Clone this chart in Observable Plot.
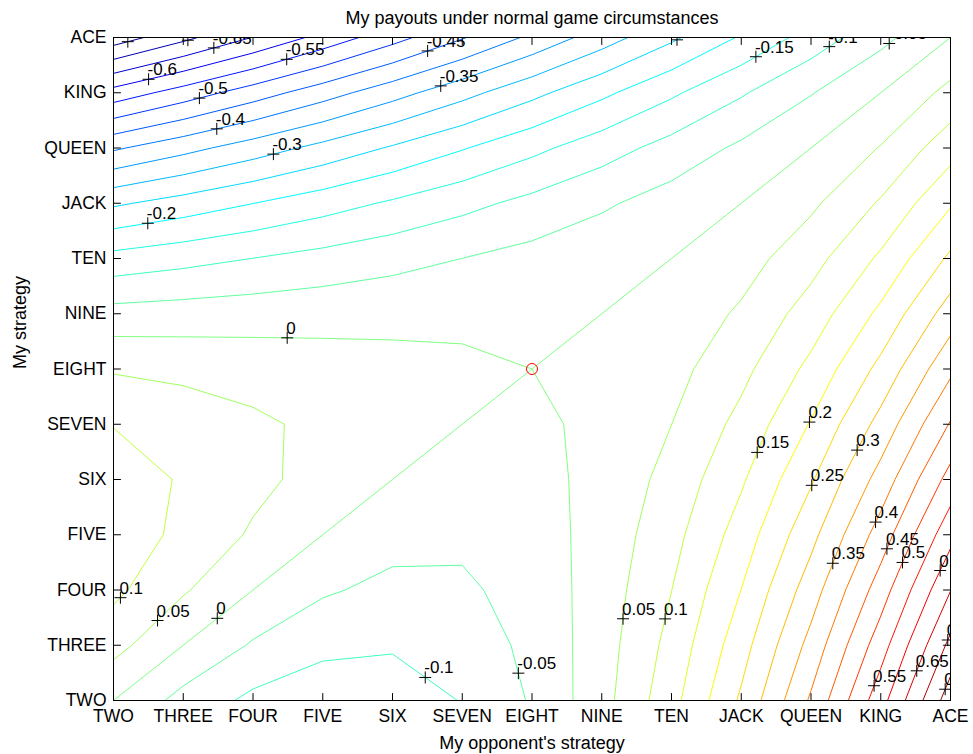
<!DOCTYPE html>
<html>
<head>
<meta charset="utf-8">
<script src="https://cdn.jsdelivr.net/npm/d3@7"></script>
<script src="https://cdn.jsdelivr.net/npm/@observablehq/plot@0.6"></script>
<style>
  html, body { margin: 0; padding: 0; background: #fff; }
  #chart svg { display: block; }
</style>
</head>
<body>
<div id="chart"></div>
<script>
// ---- data -------------------------------------------------------------
const strategies = ["TWO", "THREE", "FOUR", "FIVE", "SIX", "SEVEN", "EIGHT", "NINE", "TEN", "JACK", "QUEEN", "KING", "ACE"];

// payout[me][opponent]  (rows: my strategy, columns: opponent's strategy)
const payout = [
  [ 0.0000, -0.0679, -0.1116, -0.1312, -0.1267, -0.0980, -0.0452,  0.0317,  0.1327,  0.2579,  0.4072,  0.5807,  0.7783],
  [ 0.0679,  0.0000, -0.0558, -0.0875, -0.0950, -0.0784, -0.0377,  0.0271,  0.1161,  0.2293,  0.3665,  0.5279,  0.7134],
  [ 0.1116,  0.0558,  0.0000, -0.0437, -0.0633, -0.0588, -0.0302,  0.0226,  0.0995,  0.2006,  0.3258,  0.4751,  0.6486],
  [ 0.1312,  0.0875,  0.0437,  0.0000, -0.0317, -0.0392, -0.0226,  0.0181,  0.0830,  0.1719,  0.2851,  0.4223,  0.5837],
  [ 0.1267,  0.0950,  0.0633,  0.0317,  0.0000, -0.0196, -0.0151,  0.0136,  0.0664,  0.1433,  0.2443,  0.3695,  0.5189],
  [ 0.0980,  0.0784,  0.0588,  0.0392,  0.0196,  0.0000, -0.0075,  0.0090,  0.0498,  0.1146,  0.2036,  0.3167,  0.4540],
  [ 0.0452,  0.0377,  0.0302,  0.0226,  0.0151,  0.0075,  0.0000,  0.0045,  0.0332,  0.0860,  0.1629,  0.2640,  0.3891],
  [-0.0317, -0.0271, -0.0226, -0.0181, -0.0136, -0.0090, -0.0045,  0.0000,  0.0166,  0.0573,  0.1222,  0.2112,  0.3243],
  [-0.1327, -0.1161, -0.0995, -0.0830, -0.0664, -0.0498, -0.0332, -0.0166,  0.0000,  0.0287,  0.0814,  0.1584,  0.2594],
  [-0.2579, -0.2293, -0.2006, -0.1719, -0.1433, -0.1146, -0.0860, -0.0573, -0.0287,  0.0000,  0.0407,  0.1056,  0.1946],
  [-0.4072, -0.3665, -0.3258, -0.2851, -0.2443, -0.2036, -0.1629, -0.1222, -0.0814, -0.0407,  0.0000,  0.0528,  0.1297],
  [-0.5807, -0.5279, -0.4751, -0.4223, -0.3695, -0.3167, -0.2640, -0.2112, -0.1584, -0.1056, -0.0528,  0.0000,  0.0649],
  [-0.7783, -0.7134, -0.6486, -0.5837, -0.5189, -0.4540, -0.3891, -0.3243, -0.2594, -0.1946, -0.1297, -0.0649,  0.0000]
];

// contour levels
const levels = [-0.75, -0.7, -0.65, -0.6, -0.55, -0.5, -0.45, -0.4, -0.35, -0.3, -0.25, -0.2, -0.15, -0.1, -0.05,
                0, 0.05, 0.1, 0.15, 0.2, 0.25, 0.3, 0.35, 0.4, 0.45, 0.5, 0.55, 0.6, 0.65, 0.7, 0.75];

// equilibrium point (red circle)
const equilibrium = [{me: "EIGHT", opponent: "EIGHT"}];

// contour labels: level and approximate spot (opponent, me) where the label sits
const labelLevels = [-0.75, -0.7, -0.65, -0.6, -0.55, -0.5, -0.45, -0.4, -0.35, -0.3, -0.25, -0.2, -0.15, -0.1, -0.05,
                     0, 0, 0.05, 0.1, -0.1, -0.05, 0.05, 0.1, 0.15, 0.2, 0.25, 0.3, 0.35, 0.4, 0.45, 0.5, 0.6, 0.55, 0.65, 0.7, 0.75];
const labelOpp = [0.20, 1.06, 1.43, 0.50, 2.48, 1.23, 4.50, 1.48, 4.69, 2.29, 8.07, 0.49, 9.38, 10.27, 11.11,
                  2.49, 1.48, 0.63, 0.10, 4.46, 5.79, 7.30, 7.90, 9.23, 9.99, 10.02, 10.68, 10.32, 10.94, 11.08, 11.31, 11.89, 10.94, 11.51, 11.97, 11.97];
const labelMe = [11.95, 11.98, 11.85, 11.26, 11.62, 10.91, 11.77, 10.35, 11.13, 9.90, 11.98, 8.65, 11.28, 11.82, 11.91,
                 6.57, 1.50, 1.45, 1.86, 0.40, 0.49, 1.48, 1.48, 4.49, 5.03, 3.89, 4.52, 2.48, 3.22, 2.75, 2.50, 2.33, 0.25, 0.54, 1.09, 0.18];

const title = "My payouts under normal game circumstances";
const xLabel = "My opponent's strategy";
const yLabel = "My strategy";

// ---- layout ----------------------------------------------------------
const W = 973, H = 754;
const mL = 113, mR = 23, mT = 37, mB = 54;
const n = strategies.length;
const tickIdx = strategies.map((_, i) => i);
const font = "'Liberation Sans', Arial, Helvetica, sans-serif";

// ---- contour geometry (d3 marching squares, linear interpolation) ----
const values = payout.flat();
const contourSets = d3.contours().size([n, n]).thresholds(levels)(values);
const lines = [];
for (const set of contourSets) {
  for (const poly of set.coordinates) {
    for (const ring of poly) {
      let cur = [];
      const flush = () => { if (cur.length > 1) lines.push({level: set.value, points: cur}); cur = []; };
      for (const [px, py] of ring) {
        const onBorder = px <= 0 || px >= n || py <= 0 || py >= n;
        if (onBorder) flush();
        else cur.push([px - 0.5, py - 0.5]);
      }
      flush();
    }
  }
}
const lineRows = [];
lines.forEach((l, id) => l.points.forEach(([x, y]) => lineRows.push({x, y, level: l.level, id})));

// label placement: snap each label to its contour line
const SX = (W - mL - mR) / (n - 1), SY = (H - mT - mB) / (n - 1);
function snap(level, qx, qy) {
  let best = null, bestD = Infinity;
  for (const l of lines) {
    if (Math.abs(l.level - level) > 1e-9) continue;
    const p = l.points;
    for (let i = 0; i < p.length - 1; i++) {
      const ax = p[i][0] * SX, ay = p[i][1] * SY, bx = p[i + 1][0] * SX, by = p[i + 1][1] * SY;
      const tx = qx * SX, ty = qy * SY;
      const dx = bx - ax, dy = by - ay, L2 = dx * dx + dy * dy;
      let t = L2 ? ((tx - ax) * dx + (ty - ay) * dy) / L2 : 0;
      t = Math.max(0, Math.min(1, t));
      const cx = ax + t * dx, cy = ay + t * dy;
      const d = (cx - tx) ** 2 + (cy - ty) ** 2;
      if (d < bestD) { bestD = d; best = {x: cx / SX, y: cy / SY}; }
    }
  }
  return best;
}
const labels = labelLevels.map((lv, i) => {
  const p = snap(lv, labelOpp[i], labelMe[i]);
  return p ? {x: p.x, y: p.y, text: String(Math.round(lv * 100) / 100)} : null;
}).filter(Boolean);

// MATLAB jet colormap
function jet(t) {
  const c = v => Math.max(0, Math.min(1, v));
  const r = c(1.5 - Math.abs(4 * t - 3)), g = c(1.5 - Math.abs(4 * t - 2)), b = c(1.5 - Math.abs(4 * t - 1));
  return `rgb(${Math.round(r * 255)},${Math.round(g * 255)},${Math.round(b * 255)})`;
}

const tickLine = {draw(context, l) { context.moveTo(0, 0); context.lineTo(0, -l); }};
const plusSym = {draw(context, size) { const a = Math.sqrt(size / Math.PI); context.moveTo(-a, 0); context.lineTo(a, 0); context.moveTo(0, -a); context.lineTo(0, a); }};

const chart = Plot.plot({
  width: W, height: H,
  marginLeft: mL, marginRight: mR, marginTop: mT, marginBottom: mB,
  style: {fontFamily: font, fontSize: "17px", background: "#fff", color: "#000", overflow: "visible"},
  x: {domain: [0, n - 1]},
  y: {domain: [0, n - 1]},
  color: {type: "linear", domain: d3.extent(values), interpolate: jet},
  marks: [
    Plot.line(lineRows, {x: "x", y: "y", z: "id", stroke: "level", strokeWidth: 1, curve: "linear"}),
    Plot.dot(labels, {x: "x", y: "y", r: 6, symbol: plusSym, stroke: "black", fill: "none", strokeWidth: 1, clip: true}),
    Plot.text(labels, {x: "x", y: "y", text: "text", textAnchor: "start", lineAnchor: "bottom", dx: -1, dy: -4, fontSize: 17, fill: "black", clip: true}),
    Plot.dot(equilibrium, {x: d => strategies.indexOf(d.opponent), y: d => strategies.indexOf(d.me), r: 5.5, stroke: "red", fill: "none", strokeWidth: 1}),
    Plot.frame({stroke: "black", strokeWidth: 1}),
    Plot.vector(tickIdx, {x: d => d, frameAnchor: "bottom", length: 7, anchor: "start", shape: tickLine, stroke: "black", strokeWidth: 1}),
    Plot.vector(tickIdx, {x: d => d, frameAnchor: "top", length: 7, anchor: "start", rotate: 180, shape: tickLine, stroke: "black", strokeWidth: 1}),
    Plot.vector(tickIdx, {y: d => d, frameAnchor: "left", length: 7, anchor: "start", rotate: 90, shape: tickLine, stroke: "black", strokeWidth: 1}),
    Plot.vector(tickIdx, {y: d => d, frameAnchor: "right", length: 7, anchor: "start", rotate: -90, shape: tickLine, stroke: "black", strokeWidth: 1}),
    Plot.axisX(tickIdx, {anchor: "bottom", tickSize: 0, tickPadding: 9, tickFormat: i => strategies[i], fontSize: 17.5, label: null}),
    Plot.axisY(tickIdx, {anchor: "left", tickSize: 0, tickPadding: 7, tickFormat: i => strategies[i], fontSize: 17.5, label: null}),
    Plot.text([title], {frameAnchor: "top", text: d => d, lineAnchor: "bottom", dy: -14, fontSize: 18, fill: "black"}),
    Plot.text([xLabel], {frameAnchor: "bottom", text: d => d, lineAnchor: "bottom", dy: 48, fontSize: 18, fill: "black"}),
    Plot.text([yLabel], {frameAnchor: "left", text: d => d, lineAnchor: "bottom", rotate: -90, dx: -88, fontSize: 18, fill: "black"})
  ]
});
document.getElementById("chart").append(chart);
</script>
</body>
</html>
